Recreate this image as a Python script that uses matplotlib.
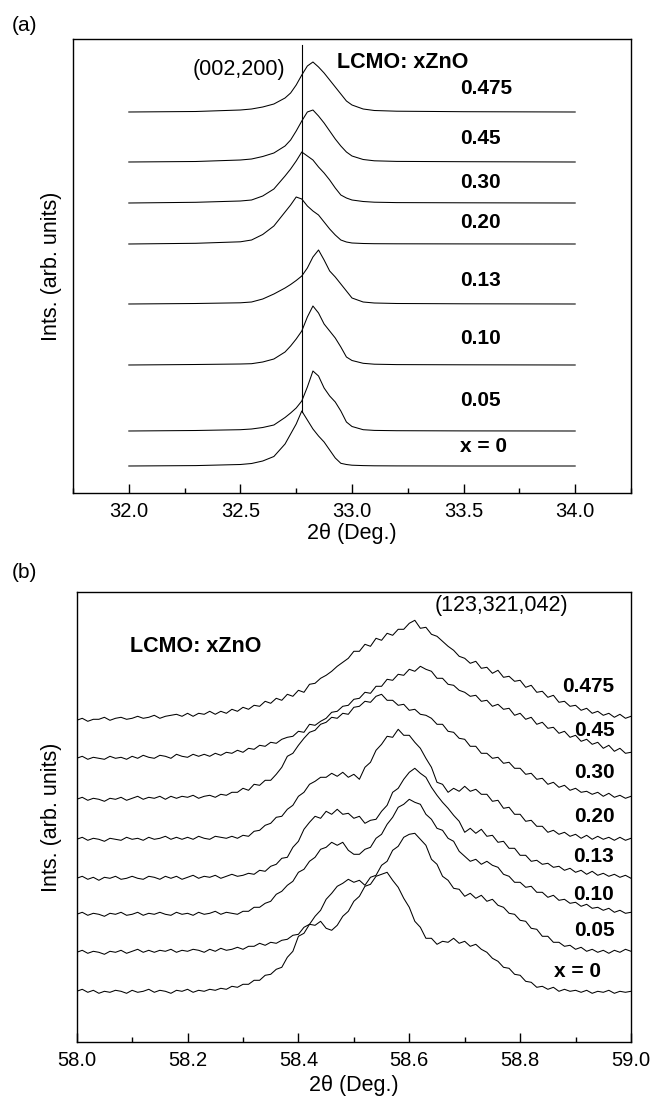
import matplotlib.pyplot as plt
from matplotlib.ticker import MultipleLocator, FormatStrFormatter
import numpy as np

plt.rcParams['font.family'] = ['Liberation Sans', 'DejaVu Sans']

# ---------------- panel (a): (002,200) reflection ----------------
labels_a = ['0.475', '0.45', '0.30', '0.20', '0.13', '0.10', '0.05', 'x = 0']
tt_a = [32.0, 32.3, 32.5, 32.55, 32.6, 32.65, 32.7, 32.725, 32.75, 32.775, 32.8, 32.825,
        32.85, 32.875, 32.9, 32.925, 32.95, 32.975, 33.0, 33.05, 33.1, 33.2, 33.5, 34.0]
base_a = [381, 331, 290, 249, 189, 128, 62, 27]
int_x0475 = [0, 0.5, 2, 3, 5, 8, 14, 19, 27, 37, 46, 50, 45, 39, 32, 25, 18, 11, 7, 3, 1.5, 0.8, 0.3, 0]
int_x045 = [0, 0.5, 2, 3, 5.5, 9, 16, 22, 31, 41, 50, 52, 46, 39, 31, 23, 16, 10, 6, 2.5, 1.2, 0.6, 0.3, 0]
int_x030 = [0, 0.7, 2, 3, 7, 14, 27, 34, 42, 51, 47, 43, 36, 30, 23, 15, 8, 5, 3, 1.5, 0.8, 0.4, 0.2, 0]
int_x020 = [0, 0.7, 2.2, 4, 9.5, 18, 32, 39, 47, 45, 38, 33, 29, 22, 15, 9, 4, 2, 1, 0.5, 0.3, 0.2, 0.1, 0]
int_x013 = [0, 0.5, 1.2, 2, 5, 10, 16, 19.5, 23.5, 28, 36, 47, 54, 44, 33, 27, 20, 13, 6, 2, 1, 0.5, 0.2, 0]
int_x010 = [0, 0.5, 1, 1.3, 3, 6, 13, 19, 26, 34, 48, 59, 52, 41, 34, 27, 18, 8, 4.5, 1.7, 0.8, 0.4, 0.2, 0]
int_x005 = [0, 0.5, 1.3, 2, 3.5, 6, 13.5, 18, 23, 30, 44, 60, 55, 43, 35, 29, 20, 9, 4.5, 1.3, 0.6, 0.3, 0.1, 0]
int_x000 = [0, 0.4, 1.5, 2.5, 5, 9.5, 22, 32, 42, 55, 46, 37, 30, 24, 16, 8, 2.7, 1.5, 0.8, 0.4, 0.2, 0.1, 0, 0]
curves_a = [int_x0475, int_x045, int_x030, int_x020, int_x013, int_x010, int_x005, int_x000]
label_y_a = [405, 355, 310, 270, 212, 154, 92, 46]

# ---------------- panel (b): (123,321,042) reflection ----------------
labels_b = ['0.475', '0.45', '0.30', '0.20', '0.13', '0.10', '0.05', 'x = 0']
tt_b = np.linspace(58.0, 59.0, 101)
b_x0475 = [322, 324, 321, 323, 323, 325, 322, 324, 325, 323,
           324, 326, 324, 325, 327, 324, 326, 327, 328, 326,
           329, 326, 329, 328, 331, 328, 331, 329, 333, 331,
           335, 333, 337, 336, 341, 339, 344, 342, 348, 346,
           352, 350, 358, 359, 364, 367, 371, 376, 380, 384,
           391, 391, 398, 396, 404, 402, 409, 407, 413, 413,
           419, 422, 414, 415, 408, 406, 401, 396, 392, 386,
           384, 379, 381, 374, 375, 369, 372, 365, 366, 361,
           362, 355, 357, 350, 351, 345, 347, 340, 341, 336,
           337, 332, 334, 329, 331, 327, 329, 325, 328, 324,
           326]
b_x045 = [284, 286, 283, 285, 284, 283, 286, 284, 285, 283,
          286, 284, 287, 285, 284, 287, 286, 284, 288, 286,
          285, 288, 286, 288, 286, 289, 287, 290, 289, 292,
          290, 294, 293, 297, 296, 300, 299, 303, 305, 306,
          311, 310, 318, 317, 321, 324, 330, 331, 336, 337,
          343, 344, 350, 349, 356, 356, 363, 362, 368, 367,
          373, 371, 376, 373, 371, 364, 364, 358, 357, 352,
          350, 346, 347, 341, 342, 336, 338, 333, 334, 327,
          329, 323, 325, 318, 320, 314, 315, 309, 311, 305,
          307, 301, 303, 298, 300, 294, 297, 291, 294, 289,
          290]
b_x030 = [243, 245, 242, 244, 243, 241, 244, 243, 245, 242,
          244, 246, 243, 245, 244, 246, 243, 246, 244, 246,
          245, 247, 244, 246, 247, 245, 248, 247, 250, 250,
          254, 252, 258, 257, 262, 262, 268, 275, 286, 289,
          297, 304, 310, 312, 318, 320, 325, 324, 329, 328,
          335, 336, 341, 340, 346, 348, 342, 342, 337, 338,
          332, 333, 328, 327, 324, 318, 318, 311, 310, 304,
          303, 296, 296, 289, 289, 284, 285, 279, 280, 274,
          274, 268, 269, 263, 264, 258, 260, 255, 257, 252,
          254, 250, 251, 248, 250, 246, 249, 245, 247, 244,
          246]
b_x020 = [203, 205, 202, 204, 203, 201, 204, 203, 202, 205,
          203, 204, 202, 205, 203, 204, 206, 203, 205, 203,
          205, 203, 206, 204, 203, 206, 205, 204, 206, 204,
          207, 206, 211, 212, 217, 219, 225, 226, 233, 237,
          246, 250, 258, 261, 265, 265, 269, 266, 270, 265,
          268, 263, 275, 280, 292, 298, 306, 305, 313, 307,
          307, 300, 294, 284, 275, 260, 258, 250, 254, 251,
          256, 251, 253, 248, 248, 241, 242, 234, 235, 228,
          228, 221, 222, 216, 216, 210, 212, 208, 210, 206,
          208, 204, 207, 203, 206, 203, 205, 202, 205, 202,
          204]
b_x013 = [164, 166, 163, 165, 162, 165, 164, 166, 163, 164,
          166, 164, 163, 166, 165, 163, 166, 164, 166, 163,
          165, 167, 164, 166, 165, 167, 164, 166, 168, 166,
          167, 169, 168, 172, 171, 176, 178, 184, 185, 195,
          201, 213, 220, 226, 224, 231, 228, 233, 228, 229,
          224, 226, 219, 222, 223, 231, 237, 250, 254, 263,
          270, 274, 269, 265, 255, 247, 240, 234, 227, 221,
          210, 214, 209, 213, 206, 207, 200, 201, 194, 194,
          187, 187, 181, 182, 178, 179, 175, 176, 172, 174,
          170, 172, 168, 171, 167, 169, 166, 168, 165, 167,
          164]
b_x010 = [128, 130, 127, 129, 128, 126, 129, 128, 130, 127,
          128, 130, 127, 129, 128, 130, 128, 127, 130, 128,
          129, 127, 130, 128, 129, 131, 128, 130, 129, 128,
          131, 131, 135, 135, 139, 141, 148, 151, 157, 161,
          170, 173, 181, 185, 193, 195, 200, 197, 200, 192,
          188, 188, 193, 195, 204, 208, 218, 225, 235, 238,
          243, 240, 238, 228, 223, 214, 212, 204, 201, 191,
          186, 181, 183, 178, 181, 177, 175, 168, 166, 160,
          160, 155, 156, 150, 150, 145, 147, 142, 143, 139,
          140, 136, 138, 134, 135, 132, 134, 130, 132, 129,
          130]
b_x005 = [90, 92, 89, 91, 90, 88, 91, 90, 92, 89,
          91, 93, 90, 92, 90, 92, 91, 93, 90, 92,
          91, 93, 92, 90, 93, 91, 94, 92, 93, 95,
          93, 96, 96, 99, 97, 100, 99, 102, 103, 107,
          108, 115, 118, 126, 132, 143, 149, 156, 159, 163,
          160, 162, 157, 165, 167, 177, 181, 192, 196, 205,
          208, 209, 203, 197, 183, 178, 166, 162, 154, 153,
          146, 149, 144, 147, 141, 143, 137, 135, 129, 128,
          122, 121, 114, 113, 106, 106, 100, 100, 96, 97,
          93, 95, 91, 93, 90, 92, 89, 92, 90, 93,
          91]
b_x000 = [51, 53, 50, 52, 49, 51, 50, 52, 51, 49,
          52, 50, 51, 53, 50, 52, 51, 49, 52, 51,
          53, 50, 52, 51, 53, 52, 54, 53, 56, 55,
          58, 58, 62, 62, 67, 68, 73, 75, 85, 91,
          106, 109, 118, 117, 121, 114, 112, 117, 126, 131,
          141, 146, 156, 158, 166, 168, 170, 162, 155, 144,
          135, 121, 115, 104, 104, 98, 101, 100, 104, 99,
          101, 96, 98, 93, 90, 84, 81, 75, 74, 68,
          67, 61, 60, 55, 56, 53, 55, 51, 53, 51,
          52, 50, 52, 49, 51, 50, 52, 49, 51, 50,
          51]
curves_b = [b_x0475, b_x045, b_x030, b_x020, b_x013, b_x010, b_x005, b_x000]
label_y_b = [356, 312, 270, 226, 186, 148, 112, 71]

fig = plt.figure(figsize=(6.53, 10.97), dpi=100)
ax_a = fig.add_axes([73 / 653, 1 - 493 / 1097, 558 / 653, 454 / 1097])
ax_b = fig.add_axes([76.7 / 653, 1 - 1042.3 / 1097, 554.3 / 653, 450 / 1097])

for off, h in zip(base_a, curves_a):
    ax_a.plot(tt_a, np.array(h) + off, color='k', lw=0.75)
for lab, y in zip(labels_a, label_y_a):
    ax_a.text(33.485, y, lab, ha='left', va='center', fontsize=15, fontweight='bold')
ax_a.plot([32.774, 32.774], [81, 448], color='k', lw=0.8)
ax_a.text(32.70, 423, '(002,200)', ha='right', va='center', fontsize=15.5)
ax_a.text(32.934, 430, 'LCMO: xZnO', ha='left', va='center', fontsize=15.5, fontweight='bold')
ax_a.set_xlim(31.75, 34.25)
ax_a.set_ylim(0, 454)
ax_a.xaxis.set_major_locator(MultipleLocator(0.5))
ax_a.xaxis.set_minor_locator(MultipleLocator(0.25))

for y, lab in zip(curves_b, labels_b):
    ax_b.plot(tt_b, y, color='k', lw=0.75)
for lab, y in zip(labels_b, label_y_b):
    xr = 58.945 if lab == 'x = 0' else 58.970
    ax_b.text(xr, y, lab, ha='right', va='center', fontsize=15, fontweight='bold')
ax_b.text(58.096, 396, 'LCMO: xZnO', ha='left', va='center', fontsize=15.5, fontweight='bold')
ax_b.text(58.646, 437, '(123,321,042)', ha='left', va='center', fontsize=15.5)
ax_b.set_xlim(58.0, 59.0)
ax_b.set_ylim(0, 450)
ax_b.xaxis.set_major_locator(MultipleLocator(0.2))
ax_b.xaxis.set_minor_locator(MultipleLocator(0.1))

for ax, ylc, xlc in [(ax_a, -0.02, -0.066), (ax_b, -0.027, -0.073)]:
    ax.xaxis.set_major_formatter(FormatStrFormatter('%.1f'))
    ax.set_yticks([])
    ax.tick_params(axis='x', which='both', direction='in', top=False, labelsize=14.5, pad=6.5, width=1.0)
    ax.tick_params(axis='x', which='major', length=6.5)
    ax.tick_params(axis='x', which='minor', length=3.6)
    for s in ax.spines.values():
        s.set_linewidth(1.0)
    ax.set_ylabel('Ints. (arb. units)', fontsize=15.5)
    ax.yaxis.set_label_coords(ylc, 0.5)
    ax.set_xlabel('2θ (Deg.)', fontsize=15.5)
    ax.xaxis.set_label_coords(0.5, xlc)

fig.text(24 / 653, 1 - 25.5 / 1097, '(a)', ha='center', va='center', fontsize=15)
fig.text(24 / 653, 1 - 573 / 1097, '(b)', ha='center', va='center', fontsize=15)

fig.savefig('out.png', dpi=100)
